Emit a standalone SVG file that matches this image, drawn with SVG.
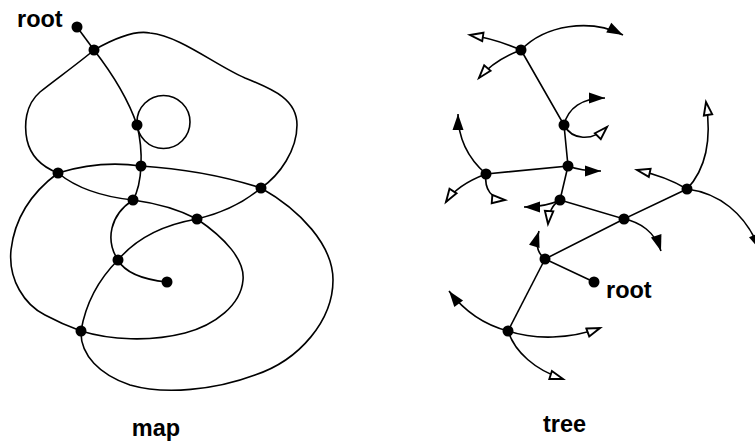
<svg xmlns="http://www.w3.org/2000/svg" width="755" height="443" viewBox="0 0 755 443">
<style>
.e{fill:none;stroke:#000;stroke-width:1.6}
.d{fill:#000}
.t{font-family:"Liberation Sans",Arial,sans-serif;font-weight:bold;font-size:23.5px;fill:#000}
.fa{marker-end:url(#filled)}
.ha{marker-end:url(#hollow)}
</style>
<defs>
<marker id="filled" markerUnits="userSpaceOnUse" markerWidth="18" markerHeight="12" refX="16" refY="5.5" orient="auto" overflow="visible">
<path d="M0,0 L16,5.5 L0,11 z" fill="#000"/>
</marker>
<marker id="hollow" markerUnits="userSpaceOnUse" markerWidth="16" markerHeight="12" refX="14" refY="5" orient="auto" overflow="visible">
<path d="M1,0.8 L14,5 L1,9.2 z" fill="#fff" stroke="#000" stroke-width="1.9" stroke-linejoin="miter"/>
</marker>
</defs>
<rect width="755" height="443" fill="#fff"/>
<g id="connectors">
<path class="e" d="M77,27 L94,50"/>
<path class="e" d="M94,50 Q125,90 137,125"/>
<path class="e" d="M94,50 C115,38 135,30 150,33 C180,36 215,65 245,78 C275,90 297,100 297,125 C297,150 280,175 261,188"/>
<path class="e" d="M94,50 C80,62 55,80 40,92 C25,105 24,125 27,140 C31,158 45,168 58,173"/>
<circle class="e" cx="163.5" cy="122" r="26.5"/>
<path class="e" d="M137,125 Q142,145 141,166"/>
<path class="e" d="M58,173 Q100,160 141,166"/>
<path class="e" d="M141,166 Q205,170 261,188"/>
<path class="e" d="M58,173 Q85,195 133,200"/>
<path class="e" d="M141,166 Q140,188 133,200"/>
<path class="e" d="M58,173 C35,190 15,215 11,250 C8,280 25,305 45,315 C58,322 70,327 81,331"/>
<path class="e" d="M133,200 Q170,205 197,219"/>
<path class="e" d="M197,219 Q235,210 261,188"/>
<path class="e" d="M133,200 C110,215 105,240 118,260"/>
<path class="e" d="M118,260 Q145,228 197,219"/>
<path class="e" d="M118,260 Q128,278 167,282"/>
<path class="e" d="M197,219 C225,238 245,260 243,280 C241,305 215,325 185,333 C150,342 110,340 81,331"/>
<path class="e" d="M118,260 Q88,290 81,331"/>
<path class="e" d="M261,188 C300,210 333,245 333,280 C333,320 300,360 255,375 C215,390 165,395 130,385 C100,375 80,355 81,331"/>
<path class="e" d="M521,50 L564,125 L568,166 L486,174"/>
<path class="e" d="M568,166 L560,200 L624,219 L687,189"/>
<path class="e" d="M624,219 L545,259 L594,282"/>
<path class="e" d="M545,259 L508,331"/>
<path class="e fa" d="M521,50 C545,25 590,18 623,35"/>
<path class="e ha" d="M521,50 C505,43 490,38 470,35"/>
<path class="e ha" d="M521,50 C505,56 490,65 479,78"/>
<path class="e fa" d="M564,125 C568,108 582,98 605,98"/>
<path class="e ha" d="M564,125 C572,140 592,142 607,127"/>
<path class="e fa" d="M486,174 C470,160 458,140 458,114"/>
<path class="e ha" d="M486,174 C470,180 455,188 446,202"/>
<path class="e ha" d="M486,174 C484,190 492,199 505,200"/>
<path class="e fa" d="M568,166 C578,170 588,171 601,171"/>
<path class="e fa" d="M560,200 C550,205 540,207 524,207"/>
<path class="e ha" d="M560,200 C552,205 549,212 548,224"/>
<path class="e fa" d="M624,219 C640,222 655,232 661,251"/>
<path class="e ha" d="M687,189 C672,180 655,174 637,170"/>
<path class="e ha" d="M687,189 C705,170 712,140 706,102"/>
<path class="e fa" d="M687,189 C718,193 745,212 760,250"/>
<path class="e fa" d="M545,259 C537,253 535,244 539,231"/>
<path class="e fa" d="M508,331 C485,325 465,312 449,291"/>
<path class="e ha" d="M508,331 C535,340 570,339 600,328"/>
<path class="e ha" d="M508,331 C515,352 535,370 563,379"/>
</g>
<g id="map">
<g id="m-root"><circle class="d" cx="77" cy="27" r="5.5"/><text class="t" x="17" y="27">root</text></g>
<g id="m-a"><circle class="d" cx="94" cy="50" r="5.5"/></g>
<g id="m-b"><circle class="d" cx="137" cy="125" r="5.5"/></g>
<g id="m-c"><circle class="d" cx="141" cy="166" r="5.5"/></g>
<g id="m-d"><circle class="d" cx="58" cy="173" r="5.5"/></g>
<g id="m-e"><circle class="d" cx="261" cy="188" r="5.5"/></g>
<g id="m-f"><circle class="d" cx="133" cy="200" r="5.5"/></g>
<g id="m-g"><circle class="d" cx="197" cy="219" r="5.5"/></g>
<g id="m-h"><circle class="d" cx="118" cy="260" r="5.5"/></g>
<g id="m-i"><circle class="d" cx="167" cy="282" r="5.5"/></g>
<g id="m-j"><circle class="d" cx="81" cy="331" r="5.5"/></g>
<text id="map-label" class="t" x="156" y="436" text-anchor="middle">map</text>
</g>
<g id="tree">
<g id="t-1"><circle class="d" cx="521" cy="50" r="5.5"/></g>
<g id="t-2"><circle class="d" cx="564" cy="125" r="5.5"/></g>
<g id="t-3"><circle class="d" cx="568" cy="166" r="5.5"/></g>
<g id="t-4"><circle class="d" cx="486" cy="174" r="5.5"/></g>
<g id="t-5"><circle class="d" cx="560" cy="200" r="5.5"/></g>
<g id="t-6"><circle class="d" cx="624" cy="219" r="5.5"/></g>
<g id="t-7"><circle class="d" cx="687" cy="189" r="5.5"/></g>
<g id="t-8"><circle class="d" cx="545" cy="259" r="5.5"/></g>
<g id="t-root"><circle class="d" cx="594" cy="282" r="5.5"/><text class="t" x="606" y="298">root</text></g>
<g id="t-9"><circle class="d" cx="508" cy="331" r="5.5"/></g>
<text id="tree-label" class="t" x="564.5" y="432" text-anchor="middle">tree</text>
</g>
</svg>
